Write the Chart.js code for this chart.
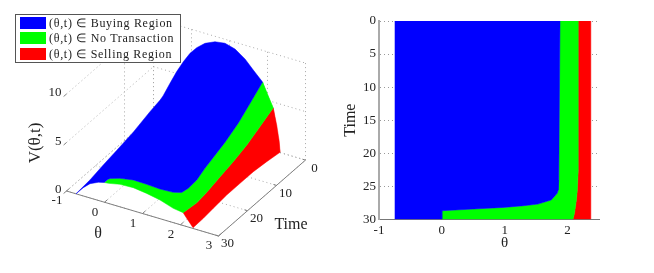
<!DOCTYPE html>
<html>
<head>
<meta charset="utf-8">
<title>Trading regions</title>
<script src="https://cdn.jsdelivr.net/npm/chart.js@4"></script>
<style>
  body { margin: 0; background: #fff; width: 654px; height: 273px; overflow: hidden; position: relative; }
  canvas { position: absolute; top: 0; filter: blur(0.35px); }
  #surface-chart { left: 0; }
  #region-chart { left: 327px; }
  #legend {
    position: absolute; left: 15px; top: 14px; width: 164px; height: 47px;
    background: #fff; border: 1px solid #555;
    font: 12px "Liberation Serif", serif; letter-spacing: 0.7px; color: #222;
    filter: blur(0.3px);
  }
  .row { position: absolute; left: 4px; height: 13px; line-height: 13px; white-space: nowrap; }
  .swatch { display: inline-block; width: 26px; height: 12px; margin-right: 3px; vertical-align: top; }
</style>
</head>
<body>
<canvas id="surface-chart" width="327" height="273"></canvas>
<canvas id="region-chart" width="327" height="273"></canvas>
<div id="legend"></div>
<script>
// Region names and colours
const regionNames = ['(θ,t) ∈ Buying Region', '(θ,t) ∈ No Transaction', '(θ,t) ∈ Selling Region'];
const regionColors = ['#0000ff', '#00ff00', '#ff0000'];

// Axis ticks
const thetaTicks = [-1, 0, 1, 2, 3];
const surfaceTimeTicks = [0, 10, 20, 30];
const valueTicks = [0, 5, 10];

// Region boundaries in the (theta, time) plane
const buyTime = [0, 24.05, 25.6, 26.07, 27.08, 27.7, 27.94, 28.2, 28.44, 28.7];
const buyTheta = [1.88, 1.86, 1.85, 1.835, 1.74, 1.53, 1.31, 0.99, 0.51, 0];
const sellTime = [0, 22.5, 25.6, 27.1, 29.1, 30];
const sellTheta = [2.17, 2.17, 2.155, 2.14, 2.11, 2.086];
const thetaLow = -0.75;
const thetaHigh = 2.37;

// Surface V(theta, t): edge at theta = -0.75
const lowEdgeTime = [30, 25.2, 20.6, 16, 10.2, 4.5, 1, 0];
const lowEdgeValue = [0, 0.17, 0.52, 0.81, 1.21, 1.81, 2.1, 2.26];

// Surface at t = 0
const startTheta = [-0.566, -0.39, -0.216, -0.04, 0.137, 0.355, 0.618, 0.882, 1.145, 1.408, 1.626, 1.87, 1.979, 2.15, 2.242, 2.31, 2.33];
const startValue = [3.78, 5.19, 6.41, 7.48, 8.27, 8.97, 9.44, 9.59, 9.3, 8.58, 7.69, 6.74, 5.7, 4.39, 2.74, 1.09, 0.03];

// Surface along the buying boundary
const buyEdgeTheta = [1.87, 1.87, 1.87, 1.87, 1.87, 1.87, 1.87, 1.84, 1.75, 1.59, 1.29, 0.97, 0.636, 0.297, 0.05, 0];
const buyEdgeTime = [0, 4.3, 8.4, 13, 17, 19.9, 22.7, 25.2, 26.3, 27.1, 27.8, 28.15, 28.4, 28.55, 28.7, 28.7];
const buyEdgeValue = [6.74, 5.67, 4.68, 3.9, 3.4, 3.03, 2.56, 2.33, 2.08, 2.11, 2.29, 2.49, 2.62, 2.43, 2.18, 2.03];

// Surface along the selling boundary
const sellEdgeTheta = [2.15, 2.15, 2.15, 2.15, 2.15, 2.14, 2.1, 2.07];
const sellEdgeTime = [0, 4.6, 9.1, 13.8, 18.3, 23, 25.7, 30];
const sellEdgeValue = [4.39, 3.65, 2.94, 2.44, 2.08, 1.6, 1.25, 1.33];

// Surface at the high edge of theta
const highEdgeTime = [0, 4.6, 9.2, 13.8, 18.4, 23, 26.45, 30];
const highEdgeValue = [0.03, 0.26, 0.43, 0.43, 0.42, 0.26, 0.12, 0.08];

// Surface at t = 30
const endTheta = [-0.75, -0.558, -0.382, -0.163, 0, 0.1, 0.408, 0.758, 1.11, 1.46, 1.81, 2.07, 2.163, 2.33];
const endValue = [0, 0.86, 1.47, 1.87, 2.03, 2.07, 2.32, 2.38, 2.2, 1.93, 1.47, 1.33, 0.86, 0.08];

// Orthographic view of the 3D axes, in canvas pixels
function project(theta, time, value) {
  return {
    x: 66.5 + (theta + 1) * 38 + (30 - time) * 2.9,
    y: 191 + (theta + 1) * 11.25 - (30 - time) * 2.53 - value * 9.7
  };
}

function segment(a, b) {
  return [project(a[0], a[1], a[2]), project(b[0], b[1], b[2]), { x: null, y: null }];
}

function surfaceDataset(points, color) {
  return {
    data: points,
    showLine: true,
    fill: 'shape',
    tension: 0,
    borderColor: color,
    backgroundColor: color,
    borderWidth: 0.5,
    pointRadius: 0
  };
}

function lineDataset(points, color, dash) {
  return {
    data: points,
    showLine: true,
    fill: false,
    tension: 0,
    spanGaps: false,
    borderColor: color,
    borderWidth: 1,
    borderDash: dash,
    pointRadius: 0
  };
}

// Blue patch of the surface
const buyPatch = [];
lowEdgeTime.forEach((t, i) => buyPatch.push(project(thetaLow, t, lowEdgeValue[i])));
startTheta.forEach((th, i) => {
  if (th <= 1.87) buyPatch.push(project(th, 0, startValue[i]));
});
buyEdgeTheta.forEach((th, i) => buyPatch.push(project(th, buyEdgeTime[i], buyEdgeValue[i])));
endTheta.forEach((th, i) => {
  if (th <= 0) buyPatch.unshift(project(th, 30, endValue[i]));
});

// Green patch
const holdPatch = [];
buyEdgeTheta.forEach((th, i) => holdPatch.push(project(th, buyEdgeTime[i], buyEdgeValue[i])));
endTheta.forEach((th, i) => {
  if (th >= 0 && th <= 2.07) holdPatch.push(project(th, 30, endValue[i]));
});
for (let i = sellEdgeTheta.length - 1; i >= 0; i--) {
  holdPatch.push(project(sellEdgeTheta[i], sellEdgeTime[i], sellEdgeValue[i]));
}
startTheta.forEach((th, i) => {
  if (th >= 1.87 && th <= 2.15) holdPatch.push(project(th, 0, startValue[i]));
});

// Red patch
const sellPatch = [];
sellEdgeTheta.forEach((th, i) => sellPatch.push(project(th, sellEdgeTime[i], sellEdgeValue[i])));
endTheta.forEach((th, i) => {
  if (th >= 2.07) sellPatch.push(project(th, 30, endValue[i]));
});
for (let i = highEdgeTime.length - 1; i >= 0; i--) {
  sellPatch.push(project(2.33, highEdgeTime[i], highEdgeValue[i]));
}
startTheta.forEach((th, i) => {
  if (th >= 2.15) sellPatch.push(project(th, 0, startValue[i]));
});

// Dotted box
let gridPoints = [];
[5, 10].forEach(v => {
  gridPoints = gridPoints.concat(segment([-1, 30, v], [-1, 0, v]), segment([-1, 0, v], [3, 0, v]));
});
gridPoints = gridPoints.concat(segment([-1, 0, 0], [3, 0, 0]), segment([-1, 30, 0], [-1, 0, 0]));
[0, 10].forEach(t => {
  gridPoints = gridPoints.concat(segment([-1, t, 0], [-1, t, 10]));
});
thetaTicks.forEach(th => {
  gridPoints = gridPoints.concat(segment([th, 0, 0], [th, 0, 10]), segment([th, 30, 0], [th, 0, 0]));
});
surfaceTimeTicks.forEach(t => {
  gridPoints = gridPoints.concat(segment([-1, t, 0], [3, t, 0]));
});

// Solid axes and their tick marks
let axisPoints = segment([-1, 30, 0], [3, 30, 0]).concat(segment([3, 30, 0], [3, 0, 0]));
thetaTicks.forEach(th => {
  axisPoints = axisPoints.concat(segment([th, 30, 0], [th, 29, 0]));
});
surfaceTimeTicks.forEach(t => {
  axisPoints = axisPoints.concat(segment([3, t, 0], [2.92, t, 0]));
});
valueTicks.forEach(v => {
  axisPoints = axisPoints.concat(segment([-1, 30, v], [-1, 31, v]));
});

// Tick labels and titles of the 3D axes
const surfaceLabels = {
  id: 'surfaceLabels',
  afterDraw(chart) {
    const { ctx, scales } = chart;
    const put = (text, p, dx, dy) => {
      ctx.fillText(text, scales.x.getPixelForValue(p.x) + dx, scales.y.getPixelForValue(p.y) + dy);
    };
    ctx.save();
    ctx.fillStyle = '#222';
    ctx.textAlign = 'center';
    ctx.textBaseline = 'middle';
    ctx.font = '13px "Liberation Serif", serif';
    thetaTicks.forEach(th => put(String(th), project(th, 30, 0), -9.5, 10));
    surfaceTimeTicks.forEach(t => put(String(t), project(3, t, 0), 9, 8));
    ctx.textAlign = 'right';
    valueTicks.forEach(v => put(String(v), project(-1, 30, v), -5, -1));
    ctx.textAlign = 'center';
    ctx.font = '16px "Liberation Serif", serif';
    ctx.fillText('θ', 98, 234);
    ctx.fillText('Time', 291, 225);
    ctx.translate(36, 143);
    ctx.rotate(-Math.PI / 2);
    ctx.font = '17px "Liberation Serif", serif';
    ctx.fillText('V(θ,t)', 0, 0);
    ctx.restore();
  }
};

// x title of the top view sits under the tick for 1, not mid axis
const regionTitle = {
  id: 'regionTitle',
  afterDraw(chart) {
    const { ctx, scales } = chart;
    ctx.save();
    ctx.fillStyle = '#222';
    ctx.textAlign = 'center';
    ctx.textBaseline = 'middle';
    ctx.font = '15px "Liberation Serif", serif';
    ctx.fillText('θ', scales.x.getPixelForValue(1), 243);
    ctx.restore();
  }
};

// 3D view, drawn on a plain pixel plane
new Chart(document.getElementById('surface-chart'), {
  type: 'scatter',
  data: {
    datasets: [
      surfaceDataset(buyPatch, regionColors[0]),
      surfaceDataset(holdPatch, regionColors[1]),
      surfaceDataset(sellPatch, regionColors[2]),
      lineDataset(axisPoints, '#808080', []),
      lineDataset(gridPoints, '#a8a8a8', [1, 3])
    ]
  },
  options: {
    responsive: false,
    animation: false,
    layout: { padding: 0, autoPadding: false },
    plugins: { legend: { display: false }, tooltip: { enabled: false } },
    scales: {
      x: { type: 'linear', display: false, min: 0, max: 327 },
      y: { type: 'linear', display: false, min: 0, max: 273, reverse: true }
    }
  },
  plugins: [surfaceLabels]
});

// Top view polygons
const buyLine = buyTheta.map((th, i) => ({ x: th, y: buyTime[i] }));
const sellLine = sellTheta.map((th, i) => ({ x: th, y: sellTime[i] }));
const buyRegion = [{ x: thetaLow, y: 0 }].concat(buyLine, [{ x: 0, y: 30 }, { x: thetaLow, y: 30 }]);
const holdRegion = buyLine.concat([{ x: 0, y: 30 }], sellLine.slice().reverse());
const sellRegion = sellLine.concat([{ x: thetaHigh, y: 30 }, { x: thetaHigh, y: 0 }]);

new Chart(document.getElementById('region-chart'), {
  type: 'scatter',
  data: {
    datasets: [
      surfaceDataset(buyRegion, regionColors[0]),
      surfaceDataset(holdRegion, regionColors[1]),
      surfaceDataset(sellRegion, regionColors[2])
    ]
  },
  options: {
    responsive: false,
    animation: false,
    layout: { padding: { top: 21, right: 55, left: 14, bottom: 22 }, autoPadding: false },
    plugins: { legend: { display: false }, tooltip: { enabled: false } },
    scales: {
      x: {
        type: 'linear',
        min: -1,
        max: 2.5,
        afterFit: scale => { scale.height = 31.7; },
        ticks: { stepSize: 1, includeBounds: false, autoSkip: false, maxRotation: 0, padding: 3, color: '#222', font: { family: '"Liberation Serif", serif', size: 13 } },
        grid: { display: false, drawTicks: false },
        border: { color: '#777', width: 1 }
      },
      y: {
        type: 'linear',
        min: 0,
        max: 30,
        reverse: true,
        afterFit: scale => { scale.width = 38; },
        ticks: { stepSize: 5, padding: 3, color: '#222', font: { family: '"Liberation Serif", serif', size: 13 } },
        grid: { color: '#999', tickLength: 0 },
        border: { color: '#aaa', width: 2, dash: [1, 3] },
        title: { display: true, text: 'Time', color: '#222', padding: 0, font: { family: '"Liberation Serif", serif', size: 16 } }
      }
    }
  },
  plugins: [regionTitle]
});

// Legend
const legend = document.getElementById('legend');
regionNames.forEach((name, i) => {
  const row = document.createElement('div');
  row.className = 'row';
  row.style.top = (2 + i * 15.3) + 'px';
  const swatch = document.createElement('span');
  swatch.className = 'swatch';
  swatch.style.background = regionColors[i];
  row.appendChild(swatch);
  row.appendChild(document.createTextNode(name));
  legend.appendChild(row);
});
</script>
</body>
</html>
